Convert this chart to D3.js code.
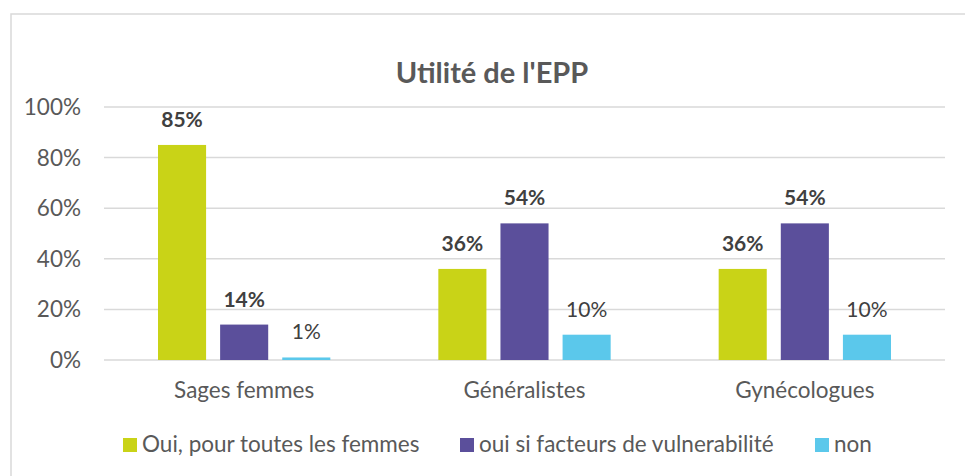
<!DOCTYPE html>
<meta charset="utf-8">
<script src="https://d3js.org/d3.v7.min.js"></script>
<style>
	body{
		margin:0;
		font-family: Lato, 'Open Sans', sans-serif;
		background:#fff;
	}
</style>
<div id="chart"></div>
<script>

var categories = ["Sages femmes","Généralistes","Gynécologues"]
var seriesNames = ["Oui, pour toutes les femmes","oui si facteurs de vulnerabilité","non"]
var oui = [85,36,36]
var ouiVuln = [14,54,54]
var non = [1,10,10]
var yTicks = [0,20,40,60,80,100]

var colors = ["#C9D317","#5B4F9B","#5BC8EB"]
var boldLabel = [true,true,false]
var series = [oui,ouiVuln,non]

var w = 965
var h = 476
var svg = d3.select("#chart").append("svg").attr("width",w).attr("height",h)

// chart frame
svg.append("rect").attr("x",11).attr("y",14).attr("width",w+10).attr("height",h)
	.attr("fill","none").attr("stroke","#d9d9d9").attr("stroke-width",1.5)

svg.append("text").text("Utilité de l'EPP")
	.attr("x",492).attr("y",83).attr("text-anchor","middle")
	.style("font-size","29px").style("font-weight","bold").attr("fill","#595959")

var x0 = d3.scaleBand().domain(categories).range([104,945])
var x1 = d3.scaleBand().domain(d3.range(3)).range([54,x0.bandwidth()-54]).paddingInner(0.226).paddingOuter(0)
var y = d3.scaleLinear().domain([0,100]).range([360,107])

// gridlines
svg.append("g").selectAll("line").data(yTicks).join("line")
	.attr("x1",104).attr("x2",945)
	.attr("y1",d=>y(d)).attr("y2",d=>y(d))
	.attr("stroke","#d9d9d9").attr("stroke-width",1.5)

svg.append("g").selectAll("text").data(yTicks).join("text")
	.text(d=>d+"%")
	.attr("x",81).attr("y",d=>y(d)+8).attr("text-anchor","end")
	.style("font-size","22.5px").attr("fill","#595959")

for(var s in series){
	var g = svg.append("g")
	g.selectAll("rect").data(series[s]).join("rect")
		.attr("x",(d,i)=>x0(categories[i])+x1(+s))
		.attr("width",x1.bandwidth())
		.attr("y",d=>y(d))
		.attr("height",d=>y(0)-y(d))
		.attr("fill",colors[s])
	g.selectAll("text").data(series[s]).join("text")
		.text(d=>d+"%")
		.attr("x",(d,i)=>x0(categories[i])+x1(+s)+x1.bandwidth()/2)
		.attr("y",d=>y(d)-18)
		.attr("text-anchor","middle")
		.style("font-size","21px")
		.style("font-weight",boldLabel[s]?"bold":"normal")
		.attr("fill","#404040")
}

svg.append("g").selectAll("text").data(categories).join("text")
	.text(d=>d)
	.attr("x",d=>x0(d)+x0.bandwidth()/2)
	.attr("y",398).attr("text-anchor","middle")
	.style("font-size","22.5px").attr("fill","#595959")

// legend
var legendX = [123,460,815]
var leg = svg.append("g").selectAll("g").data(seriesNames).join("g")
	.attr("transform",(d,i)=>"translate("+legendX[i]+",438)")
leg.append("rect").attr("width",14).attr("height",14).attr("fill",(d,i)=>colors[i])
leg.append("text").text(d=>d).attr("x",19).attr("y",14)
	.style("font-size","22.5px").attr("fill","#595959")

</script>
